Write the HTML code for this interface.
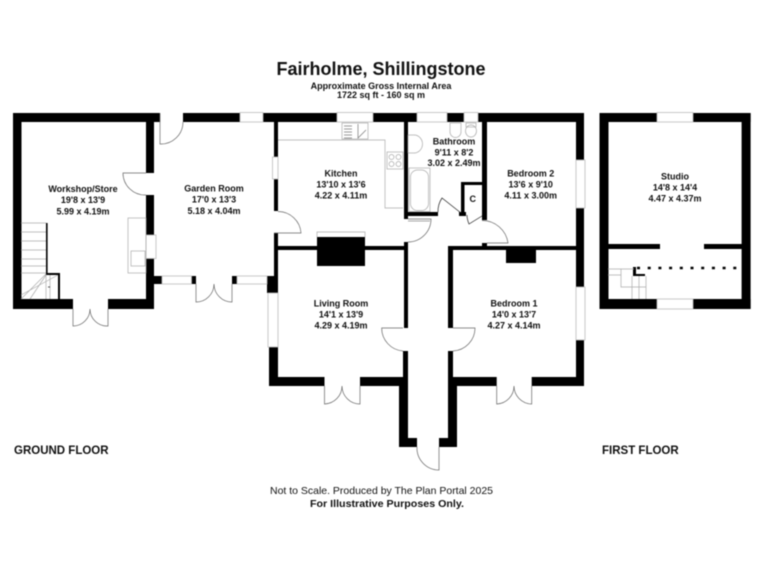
<!DOCTYPE html>
<html><head><meta charset="utf-8"><style>
html,body{margin:0;padding:0;background:#fff;width:768px;height:576px;overflow:hidden}
svg{display:block;filter:blur(0.45px)}
text{font-family:"Liberation Sans",sans-serif;font-weight:bold;font-size:9px;fill:#111;text-anchor:middle}
.w{fill:#000;stroke:none}
.t{fill:none;stroke:#aaa;stroke-width:.7}
.d{fill:none;stroke:#666;stroke-width:.7}
.win{fill:#fff;stroke:#bbb;stroke-width:.8}
</style></head><body>
<svg width="768" height="576" viewBox="0 0 768 576" xmlns="http://www.w3.org/2000/svg">
<rect width="768" height="576" fill="#fff"/>
<g class="w">
<!-- workshop -->
<rect x="13" y="113" width="147" height="9"/>
<rect x="13" y="113" width="8.500" height="196"/>
<rect x="13" y="299" width="60" height="10"/>
<rect x="108" y="299" width="46" height="10"/>
<rect x="146" y="113" width="8" height="60"/>
<rect x="146" y="195" width="8" height="40"/>
<rect x="146" y="258" width="8" height="51"/>
<rect x="154" y="276" width="8" height="8"/>
<rect x="46" y="223" width="1.600" height="52"/>
<rect x="46" y="273" width="14" height="2"/>
<rect x="58" y="273" width="2" height="26"/>
<!-- garden -->
<rect x="183" y="113" width="57" height="9"/>
<rect x="263" y="113" width="74" height="9"/>
<rect x="274" y="113" width="4" height="44"/>
<rect x="274" y="179" width="4" height="32"/>
<rect x="274" y="233" width="4" height="43"/>
<rect x="191.500" y="276" width="4.500" height="8"/>
<rect x="232" y="276" width="5" height="8"/>
<rect x="267" y="276" width="11" height="17"/>
<!-- top run -->
<rect x="373" y="113" width="44" height="9"/>
<rect x="447" y="113" width="17" height="9"/>
<rect x="478" y="113" width="106" height="9"/>
<rect x="576" y="113" width="8" height="47"/>
<rect x="576" y="208" width="8" height="79"/>
<rect x="576" y="340" width="8" height="46"/>
<!-- bathroom -->
<rect x="404" y="122" width="4" height="97"/>
<rect x="404" y="212" width="34" height="4"/>
<rect x="482" y="122" width="5" height="98"/>
<rect x="461" y="182" width="21" height="3"/>
<rect x="461" y="182" width="3.500" height="34"/>
<rect x="459" y="212" width="7" height="4"/>
<rect x="482" y="243" width="5" height="3"/>
<!-- kitchen / living -->
<rect x="278" y="246" width="130" height="4"/>
<rect x="404" y="242" width="4" height="86"/>
<rect x="317" y="237" width="48" height="29"/>
<rect x="448" y="246" width="136" height="4"/>
<rect x="448" y="246" width="5" height="82"/>
<rect x="506" y="250" width="30" height="13"/>
<!-- living -->
<rect x="269" y="347" width="9" height="39"/>
<rect x="269" y="377" width="55.500" height="9"/>
<rect x="360" y="377" width="48" height="9"/>
<rect x="403" y="351" width="5" height="35"/>
<rect x="399" y="377" width="9" height="70"/>
<rect x="399" y="438" width="18" height="9"/>
<!-- bedroom 1 -->
<rect x="448" y="351" width="5" height="35"/>
<rect x="448" y="377" width="48.700" height="9"/>
<rect x="531.700" y="377" width="52.300" height="9"/>
<rect x="448" y="377" width="9" height="70"/>
<rect x="439" y="438" width="18" height="9"/>
<!-- studio -->
<rect x="599.500" y="113" width="57.500" height="9"/>
<rect x="693" y="113" width="57.600" height="9"/>
<rect x="599.500" y="113" width="9" height="196"/>
<rect x="741.600" y="113" width="9" height="196"/>
<rect x="599.500" y="299" width="57.500" height="10"/>
<rect x="693" y="299" width="57.600" height="10"/>
<rect x="608" y="244" width="52" height="5"/>
<rect x="704" y="244" width="38" height="5"/>
<rect x="633" y="267" width="3" height="9"/>
<rect x="633" y="274" width="12" height="2"/>
</g>
<!-- windows -->
<rect class="win" x="240" y="112.500" width="23" height="9.500"/>
<rect class="win" x="337" y="112.500" width="36" height="9.500"/>
<rect class="win" x="417" y="112.500" width="30" height="9.500"/>
<rect class="win" x="464" y="112.500" width="14" height="9.500"/>
<rect class="win" x="657" y="112.500" width="36" height="9.500"/>
<rect class="win" x="657" y="299" width="36" height="10"/>
<rect class="win" x="576" y="160" width="9" height="48"/>
<rect class="win" x="576" y="287" width="9" height="53"/>
<rect class="win" x="146" y="235" width="10" height="23.500"/>
<rect class="win" x="272.500" y="157" width="5.500" height="22"/>
<rect class="win" x="268" y="293" width="10" height="54"/>
<rect class="win" x="162" y="276" width="29.500" height="8"/>
<rect class="win" x="237" y="276" width="30" height="8"/>
<!-- doors -->
<g class="d">
<path d="M160 113V144A22 22 0 0 0 183 122"/>
<path d="M146 173H123A22 22 0 0 0 146 195"/>
<path d="M73 309V326A17 17 0 0 0 90 309A17 17 0 0 0 108 326V309"/>
<path d="M196 284V302A18 18 0 0 0 214 284A18 18 0 0 0 232 302V284"/>
<path d="M278 211.500A23 23 0 0 1 301 233H274"/>
<path d="M408 219H431A23 23 0 0 1 408 242"/>
<path d="M408 221H430" stroke="#888"/>
<path d="M438 212A24 24 0 0 1 442 198L461 213" stroke="#222"/>
<path d="M467 215A24 24 0 0 0 469 224L482 216" stroke="#222"/>
<path d="M482 220.500A26 26 0 0 1 508 243H487"/>
<path d="M403 328H381.700A23 23 0 0 0 403 351"/>
<path d="M453 328H475A23 23 0 0 1 453 351"/>
<path d="M324.500 386V404A18 18 0 0 0 342 386A18 18 0 0 0 360 404V386"/>
<path d="M496.700 386V404A18 18 0 0 0 514 386A18 18 0 0 0 531.700 404V386"/>
<path d="M417 447A22 22 0 0 0 439 470V447"/>
</g>
<!-- fittings -->
<g class="t">
<path d="M278 140H385V208H403"/>
<rect x="342" y="123" width="26" height="16"/>
<path d="M344 126H352M344 129H352M344 132H352M344 135H352M344 138H352M358 124V138L366 130" stroke="#777"/>
<rect x="387" y="152" width="16" height="17"/>
<circle cx="391.500" cy="157" r="2.500"/><circle cx="398.500" cy="157" r="2.500"/><circle cx="391.500" cy="164" r="2.500"/><circle cx="398.500" cy="164" r="2.500"/>
<path d="M317 237V232H365V237"/>
<rect x="409" y="168" width="21" height="43.500"/>
<rect x="410.500" y="170" width="18" height="40.500" rx="7"/>
<path d="M408 135H414A8.500 9 0 0 1 414 153H408Z"/>
<path d="M450 123H461V132A5.500 5.500 0 0 1 450 132Z"/>
<rect x="466" y="123" width="10" height="4"/>
<ellipse cx="471" cy="131" rx="5.500" ry="6"/>
<rect x="128" y="218" width="18" height="55"/>
<rect x="131" y="251" width="14" height="15"/>
<path d="M21 223H46M21 232H46M21 241H46M21 250H46M21 259H46M21 266H46M21 273H46M21 299L46 274M21 295L58 275M30 299L46 275M46 275V299M50 275V299"/>
<path d="M48 287H50" stroke="#000"/>
<path d="M608 269H634M608 275H621M621 269V287H646M632 276V299M639 276V299M646 276V299"/>
</g>
<path d="M637 268H742" stroke="#000" stroke-width="2.500" stroke-dasharray="3 7.700" fill="none"/>
<!-- text -->
<text x="381" y="75" style="font-size:18px">Fairholme, Shillingstone</text>
<text x="381" y="89">Approximate Gross Internal Area</text>
<text x="381" y="98">1722 sq ft - 160 sq m</text>

<text x="83" y="192">Workshop/Store</text><text x="83" y="203">19'8 x 13'9</text><text x="83" y="214.500">5.99 x 4.19m</text>
<text x="214" y="191.500">Garden Room</text><text x="214" y="202.500">17'0 x 13'3</text><text x="214" y="214">5.18 x 4.04m</text>
<text x="341" y="176.500">Kitchen</text><text x="341" y="187.500">13'10 x 13'6</text><text x="341" y="198.500">4.22 x 4.11m</text>
<text x="454" y="144.500">Bathroom</text><text x="454" y="155.500">9'11 x 8'2</text><text x="454" y="166">3.02 x 2.49m</text>
<text x="530.700" y="176.500">Bedroom 2</text><text x="530.700" y="187.500">13'6 x 9'10</text><text x="530.700" y="198.500">4.11 x 3.00m</text>
<text x="472.700" y="202">C</text>
<text x="341" y="306.500">Living Room</text><text x="341" y="317.500">14'1 x 13'9</text><text x="341" y="328.500">4.29 x 4.19m</text>
<text x="514" y="306.500">Bedroom 1</text><text x="514" y="317.500">14'0 x 13'7</text><text x="514" y="328.500">4.27 x 4.14m</text>
<text x="675" y="179.500">Studio</text><text x="675" y="190.500">14'8 x 14'4</text><text x="675" y="201.500">4.47 x 4.37m</text>

<text x="14" y="454" style="font-size:11.500px;text-anchor:start">GROUND FLOOR</text>
<text x="602" y="454" style="font-size:11.500px;text-anchor:start">FIRST FLOOR</text>
<text x="381.500" y="494" textLength="223" lengthAdjust="spacingAndGlyphs" style="font-size:10.500px;font-weight:normal">Not to Scale. Produced by The Plan Portal 2025</text>
<text x="387" y="507" textLength="154" lengthAdjust="spacingAndGlyphs" style="font-size:10.500px">For Illustrative Purposes Only.</text>
</svg>
</body></html>
